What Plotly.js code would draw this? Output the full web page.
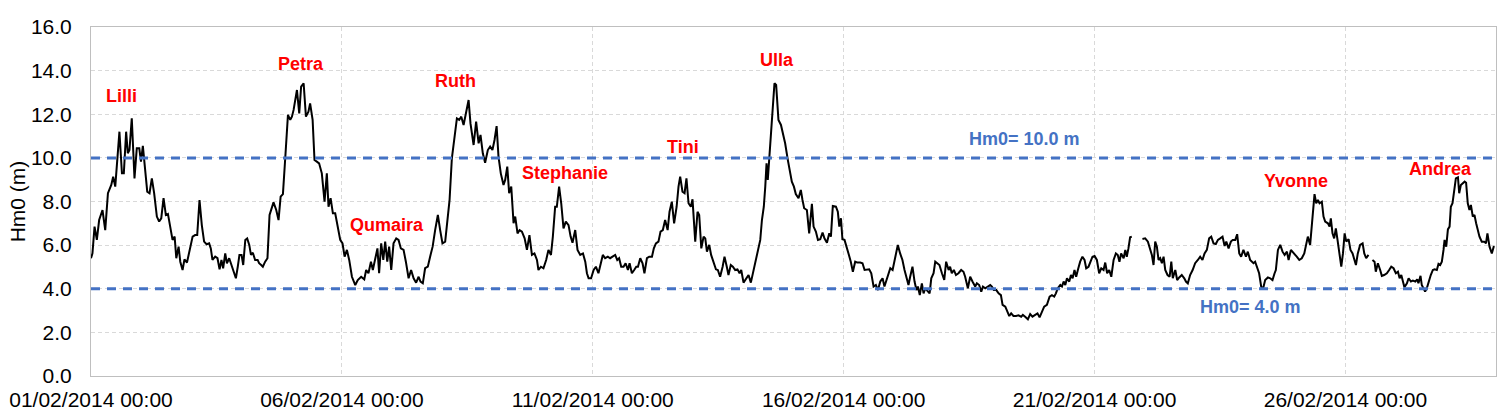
<!DOCTYPE html>
<html>
<head>
<meta charset="utf-8">
<script src="https://cdn.plot.ly/plotly-3.0.1.min.js"></script>
<style>
  html, body { margin: 0; padding: 0; background: #fff; }
  #chart { width: 1511px; height: 416px; }
</style>
</head>
<body>
<div id="chart"></div>
<script>
// Hm0 readings as [hours since 01/02/2014 00:00, Hm0 in m]; null = gap in the record
const week1 = [
    [0.0,5.40],[0.7,5.62],[1.7,6.85],[2.8,6.24],[3.9,7.15],[5.5,7.61],[6.8,6.69],[8.1,8.38],[9.7,8.76],[10.6,9.14],
    [11.6,8.68],[12.7,9.98],[13.6,11.20],[14.8,9.29],[15.7,9.29],[16.8,11.20],[17.6,10.21],[18.4,10.36],[19.5,11.81],[20.8,9.06],
    [21.9,10.44],[23.1,10.44],[23.9,9.83],[24.8,10.55],[25.9,9.60],[26.9,8.45],[28.0,8.38],[29.1,9.06],[30.2,8.38],[31.5,7.31],
    [32.6,7.08],[33.6,7.23],[34.7,8.15],[35.8,7.38],[36.8,7.43],[37.9,6.85],[39.0,6.24],[40.0,6.39],[40.8,5.40],[41.9,5.93],
    [42.7,5.24],[43.8,4.86],[44.7,5.35],[45.9,5.20],[47.4,5.85],[48.6,6.39],[49.8,6.46],[50.8,6.46],[51.9,8.07],[53.0,6.92],
    [54.1,6.16],[55.3,6.04],[56.5,6.08],[57.3,5.85],[58.1,5.32],[59.4,5.47],[60.5,5.40],[61.5,4.89],[62.4,5.32],[63.2,4.94],
    [64.2,5.62],[65.0,5.17],[66.1,5.40],[67.4,5.01],[68.3,4.71],[69.3,4.48],[70.2,5.01],[71.0,5.55],[72.0,5.55],[72.8,5.09],
    [73.8,6.24],[74.7,6.31],[75.7,6.01],[76.5,5.55],[77.4,5.65],[78.5,5.32],[79.7,5.32],[80.4,5.17],[81.4,5.09],[82.2,5.01],
    [83.3,5.24],[84.4,5.40],[85.4,7.38],[87.3,7.96],[88.6,7.61],[89.7,7.15],[90.7,8.22],[91.8,8.34],[92.9,9.98],[94.2,11.97],
    [95.3,11.74],[96.1,11.89],[96.9,12.20],[98.5,13.11],[99.6,12.04],[100.5,13.27],[101.7,13.42],[102.8,11.89],[104.0,12.12],[104.8,12.50],
    [106.0,11.74],[106.9,9.90],[108.0,9.83],[109.1,9.75],[110.4,9.29],[111.7,7.99],[112.8,9.29],[113.6,7.76],[114.6,8.15],[115.7,7.46],
    [116.8,7.46],[117.9,6.85],[119.2,6.24],[120.3,6.08],[121.3,5.47],[122.4,5.78],[123.5,5.32],[124.8,4.55],[126.4,4.17],[127.6,4.40],
    [129.2,4.55],[130.7,4.43],[131.6,4.86],[132.7,4.71],[133.9,5.24],[134.8,4.86],[135.9,5.40],[137.0,5.85],[137.8,4.71],[138.8,6.08],
    [139.8,5.32],[140.7,6.16],[141.7,5.24],[142.6,5.93],[143.6,4.86],[144.7,6.08],[146.0,6.31],[147.1,6.24],[148.2,5.85],[149.5,5.78],
    [150.6,5.24],[151.9,4.48],[153.1,4.86],[154.3,4.48],[155.5,4.28],[156.7,4.55],[157.6,4.33],[158.7,4.25],[159.8,4.94],[161.1,5.01],
    [162.2,5.47],[163.4,5.93],[164.6,6.69],[165.9,7.38],[167.0,6.69],[168.1,6.08]
];
const week2 = [
    [169.4,6.16],[170.5,7.23],[171.5,8.07],[172.6,9.98],[174.2,11.13],[175.0,11.81],[176.1,11.74],[177.1,11.89],[178.2,11.51],[179.3,12.12],
    [180.6,12.65],[181.5,11.58],[183.0,10.59],[184.2,11.66],[185.4,10.67],[186.3,11.05],[187.4,10.21],[188.5,9.78],[189.8,10.36],[190.9,10.52],
    [192.0,10.36],[193.0,10.82],[194.0,11.46],[194.9,10.06],[196.0,9.29],[197.3,8.76],[198.1,8.99],[199.1,9.60],[200.0,8.38],[201.0,8.68],
    [202.1,7.00],[202.9,7.31],[204.0,6.54],[205.0,6.69],[206.1,6.62],[207.4,6.31],[208.5,5.78],[209.7,6.46],[210.9,5.55],[212.1,5.62],
    [213.3,5.32],[214.0,4.86],[215.2,5.01],[216.4,4.94],[217.7,5.32],[218.8,5.78],[220.0,5.55],[220.9,6.39],[222.0,7.76],[222.8,7.76],
    [223.9,8.68],[224.9,7.92],[226.0,6.77],[227.1,7.08],[228.4,6.92],[229.4,6.39],[230.3,6.11],[231.6,6.69],[232.7,5.78],[234.0,5.55],
    [235.3,5.62],[236.4,5.24],[237.2,4.71],[238.0,4.48],[239.2,4.48],[240.4,4.86],[241.5,5.01],[242.7,4.71],[243.9,5.17],[244.8,5.55],
    [245.9,5.40],[247.2,5.47],[248.3,5.40],[249.6,5.47],[250.7,5.55],[251.7,5.32],[252.6,5.40],[253.6,5.01],[254.7,5.01],[255.7,5.17],
    [256.8,4.86],[257.6,5.17],[258.7,4.71],[259.8,4.86],[260.8,5.01],[261.6,5.01],[262.7,5.40],[263.8,5.17],[264.7,4.71],[265.9,5.40],
    [267.0,5.47],[268.3,5.47],[269.2,5.85],[270.2,6.08],[271.4,6.16],[272.4,6.62],[273.5,6.69],[274.6,7.15],[275.8,6.69],[276.7,7.53],
    [277.8,7.99],[278.9,7.00],[280.1,7.76],[281.0,8.68],[281.8,9.14],[282.9,8.45],[283.9,8.38],[284.8,9.06],[285.8,7.92],[286.9,7.76],
    [287.7,8.10],[289.0,6.16],[290.1,7.53],[290.9,7.38],[291.9,5.85],[293.0,6.39],[293.8,6.31],[294.6,5.70],[295.7,6.01],[296.6,5.55],
    [297.8,5.24],[298.9,4.89],[299.8,4.86],[300.9,4.55],[302.1,5.01],[303.0,5.47],[304.1,5.01],[304.9,4.63],[306.0,5.09],[307.0,5.01],
    [308.1,4.86],[309.2,4.89],[310.2,4.71],[311.0,4.86],[312.1,4.28],[313.4,4.48],[314.5,4.63],[315.6,4.28],[316.6,4.71],[317.7,5.17],
    [319.0,5.62],[320.1,6.24],[320.9,7.15],[321.8,7.76],[322.5,8.68],[323.1,9.75],[323.7,8.99],[324.4,9.90],[325.3,10.97],[326.1,12.35],
    [326.9,13.42],[327.7,13.34],[328.8,11.74],[330.0,11.51],[330.9,11.13],[332.0,10.67],[333.3,9.90],[334.4,9.29],[335.2,8.91],[336.2,8.68]
];
const week3 = [
    [337.1,8.34],[338.4,8.15],[339.5,8.53],[340.3,8.07],[341.1,7.69],[342.4,7.61],[343.5,6.54],[344.8,7.89],[345.6,6.85],[346.7,6.62],
    [347.7,6.24],[348.8,6.27],[349.9,6.58],[350.8,6.31],[352.0,6.11],[353.1,6.54],[353.9,6.39],[354.8,7.79],[356.3,7.76],[357.2,7.53],
    [357.9,6.85],[358.7,7.23],[359.4,6.27],[360.4,6.24],[361.4,5.85],[362.3,5.62],[363.4,5.24],[364.4,4.78],[365.5,5.24],[366.6,5.20],
    [367.9,5.20],[369.0,5.17],[370.0,4.86],[371.1,4.86],[372.2,4.89],[373.2,4.71],[374.3,4.10],[375.4,4.17],[376.4,3.94],[377.5,4.33],
    [378.6,4.48],[379.5,4.10],[381.1,4.55],[382.3,4.94],[383.4,4.86],[384.6,5.47],[385.9,6.01],[387.0,5.62],[388.1,5.32],[389.1,4.86],
    [390.2,4.48],[391.0,4.17],[391.8,4.55],[392.9,5.01],[393.9,4.33],[394.8,3.94],[395.5,4.10],[396.4,3.71],[397.4,4.25],[398.2,3.79],
    [399.0,4.02],[400.1,3.87],[401.1,3.79],[401.9,4.48],[403.0,4.71],[403.8,5.24],[404.9,5.17],[405.8,5.09],[407.0,4.71],[408.1,4.40],
    [409.0,5.24],[410.2,4.86],[410.9,5.01],[411.7,4.71],[412.7,4.86],[413.7,4.63],[414.9,4.71],[416.2,4.86],[417.3,4.78],[418.1,4.55],
    [419.4,4.02],[420.5,4.55],[421.6,4.33],[422.9,4.10],[423.7,4.25],[424.8,4.17],[425.8,3.87],[426.6,4.10],[427.7,4.02],[429.0,4.10],
    [430.1,4.17],[430.9,4.10],[431.8,3.94],[433.0,3.94],[434.1,3.79],[435.2,3.71],[436.0,3.26],[437.3,3.18],[438.2,2.95],[439.2,2.75],
    [440.1,2.87],[441.2,2.75],[442.4,2.75],[443.6,2.78],[444.9,2.72],[445.7,2.80],[446.8,2.72],[448.1,2.60],[449.2,2.84],[450.3,2.72],
    [451.6,2.80],[452.7,2.87],[453.7,2.69],[454.8,2.95],[455.9,3.18],[457.2,3.26],[458.5,3.64],[459.6,3.71],[460.7,3.64],[461.5,3.79],
    [462.4,4.02],[463.6,4.17],[464.4,4.10],[465.2,4.33],[466.0,4.17],[466.8,4.48],[467.9,4.33],[468.7,4.63],[469.5,4.48],[470.4,4.86],
    [471.2,4.55],[472.0,4.86],[473.1,5.24],[474.2,5.47],[475.2,5.32],[476.0,4.94],[477.1,5.01],[479.0,5.47],[480.0,5.50],[481.1,5.32],
    [482.2,4.71],[483.2,4.94],[484.3,4.86],[485.1,5.20],[486.0,4.71],[487.0,4.86],[488.0,4.55],[489.1,5.32],[490.2,5.62],[491.1,5.55],
    [491.9,5.24],[492.7,5.62],[493.9,5.40],[494.7,5.78],[495.4,5.47],[496.2,5.85],[497.0,6.36],[497.8,6.39],[500.0,null],[502.9,6.28],
    [504.2,6.31]
];
const week4 = [
    [505.5,6.16],[506.6,5.78],[507.4,5.55],[508.2,5.09],[509.0,6.16],[509.8,5.93],[510.6,5.32],[511.4,5.40],[512.2,5.17],[513.0,5.47],
    [513.8,4.86],[514.9,4.63],[515.9,4.55],[516.7,5.24],[517.4,4.48],[518.6,4.86],[519.5,4.40],[520.5,4.52],[521.7,4.63],[522.9,4.48],
    [523.7,4.33],[524.6,4.25],[525.7,4.63],[526.9,4.86],[528.1,5.17],[529.4,5.32],[530.5,5.47],[531.6,5.32],[532.6,5.62],[533.7,5.78],
    [534.8,6.31],[535.8,6.39],[536.9,6.08],[538.0,6.05],[539.0,6.24],[540.1,6.31],[541.2,6.39],[542.2,5.96],[543.0,6.16],[544.1,5.85],
    [545.2,6.16],[546.1,6.24],[547.3,6.24],[548.2,6.50],[549.2,5.62],[550.1,5.47],[551.2,5.78],[552.4,5.47],[553.3,5.70],[554.4,5.32],
    [555.2,5.24],[556.0,5.17],[556.8,5.24],[557.9,4.86],[558.7,4.71],[559.7,4.10],[560.5,3.97],[561.6,4.40],[562.9,4.52],[564.0,4.48],
    [565.1,4.40],[566.1,4.71],[566.7,4.86],[567.7,5.78],[568.8,6.01],[569.9,5.70],[570.9,5.55],[572.0,5.70],[572.8,5.32],[573.9,5.78],
    [575.6,5.62],[576.7,5.47],[577.9,5.32],[579.1,5.40],[580.3,5.62],[581.2,6.01],[582.0,6.39],[583.1,6.01],[583.9,6.92],[584.7,7.46],
    [585.2,8.34],[586.0,7.92],[586.8,8.07],[587.6,7.92],[588.7,7.99],[589.5,7.31],[590.3,7.08],[591.6,7.00],[592.4,6.85],[593.0,7.23],
    [593.8,6.54],[594.6,6.31],[595.4,6.77],[596.2,6.24],[597.0,5.78],[598.0,5.01],[598.8,5.62],[599.6,6.54],[600.4,6.16],[601.5,6.27],
    [602.4,5.78],[603.4,5.62],[604.2,5.35],[605.0,5.09],[605.9,5.62],[607.0,6.01],[608.2,6.08],[609.0,5.62],[609.9,5.40],[611.0,5.55],
    [612.0,null],[612.9,5.32],[613.9,5.24],[614.5,4.78],[615.5,5.17],[616.6,4.86],[617.4,4.59],[618.5,4.63],[619.8,4.71],[620.9,4.86],
    [621.9,5.01],[623.0,4.94],[624.1,4.71],[625.1,4.78],[625.9,4.48],[626.7,4.63],[627.5,4.25],[628.2,4.07],[629.4,4.25],[630.2,4.48],
    [631.3,4.33],[632.2,4.37],[633.4,4.33],[634.3,4.43],[634.9,4.25],[635.9,4.59],[636.5,4.17],[637.3,4.02],[638.1,3.87],[638.9,4.02],
    [639.7,4.33],[640.8,4.63],[641.8,4.86],[642.6,4.89],[643.7,4.86],[644.5,5.14],[645.3,5.09],[646.1,5.24],[646.9,5.78],[647.4,6.24],
    [648.2,5.93],[649.0,6.72],[649.8,6.85],[650.4,7.76],[651.2,7.92],[652.0,8.53],[652.8,9.06],[653.8,9.11],[654.4,8.38],[655.2,8.76],
    [656.0,8.83],[657.0,8.91],[657.7,8.86],[658.5,7.92],[659.3,7.61],[660.0,7.84],[660.9,7.31],[661.7,7.38],[662.5,7.00],[663.3,6.69],
    [664.1,6.39],[665.2,6.16],[666.4,6.16],[667.2,6.08],[667.9,6.54],[668.9,5.93],[670.0,5.62],[671.0,5.96]
];

// storms named on the chart
const stormNames = ['Lilli', 'Petra', 'Qumaira', 'Ruth', 'Stephanie', 'Tini', 'Ulla', 'Yvonne', 'Andrea'];
// thresholds (m)
const thresholds = [10.0, 4.0];

const inicio = Date.UTC(2014, 1, 1);
function paraData(h) {
    return new Date(inicio + h * 3600000).toISOString().slice(0, 19).replace('T', ' ');
}

const leituras = week1.concat(week2, week3, week4);

const serie = {
    x: leituras.map(r => paraData(r[0])),
    y: leituras.map(r => r[1]),
    type: 'scatter',
    mode: 'lines',
    connectgaps: false,
    line: { color: '#000000', width: 2 },
    showlegend: false
};

// where each label sits (hours, m)
const posNomes = [[14.4, 12.84], [100.5, 14.3], [141.7, 6.92], [174.1, 13.53], [226.8, 9.31],
                  [283.2, 10.5], [328.1, 14.49], [576.4, 8.94], [645.3, 9.49]];
const posLimites = [[446.3, 10.87], [554.4, 3.16]];

const anotacoes = stormNames.map((nome, i) => ({
    x: paraData(posNomes[i][0]), y: posNomes[i][1],
    text: '<b>' + nome + '</b>', showarrow: false,
    font: { color: '#FF0000', size: 18 }
})).concat(thresholds.map((v, i) => ({
    x: paraData(posLimites[i][0]), y: posLimites[i][1],
    text: '<b>Hm0= ' + v.toFixed(1) + ' m</b>', showarrow: false,
    font: { color: '#4472C4', size: 18 }
})));

// limites tracejados
const linhas = thresholds.map(v => ({
    type: 'line', xref: 'paper', x0: 0, x1: 1, yref: 'y', y0: v, y1: v,
    line: { color: '#4472C4', width: 3, dash: '9px,7px' },
    layer: 'above'
}));

const layout = {
    width: 1511,
    height: 416,
    margin: { l: 91, r: 15, t: 27, b: 40 },
    paper_bgcolor: '#ffffff',
    plot_bgcolor: '#ffffff',
    font: { family: 'Liberation Sans, Arial, sans-serif', size: 21, color: '#000000' },
    xaxis: {
        type: 'date',
        range: [paraData(0), paraData(672)],
        tick0: paraData(0),
        dtick: 5 * 86400000,
        tickformat: '%d/%m/%Y %H:%M',
        showgrid: true,
        gridcolor: '#D9D9D9',
        griddash: '4px,3px',
        showline: true,
        linecolor: '#BFBFBF',
        linewidth: 1,
        mirror: true,
        zeroline: false,
        ticks: '',
        ticklabelstandoff: 5
    },
    yaxis: {
        range: [0, 16],
        dtick: 2,
        tickformat: '.1f',
        showgrid: true,
        gridcolor: '#D9D9D9',
        griddash: '4px,3px',
        showline: true,
        linecolor: '#BFBFBF',
        linewidth: 1,
        mirror: true,
        zeroline: false,
        ticks: '',
        ticklabelstandoff: 14,
        title: { text: 'Hm0 (m)', font: { size: 21 } }
    },
    shapes: linhas,
    annotations: anotacoes
};

Plotly.newPlot('chart', [serie], layout, { displayModeBar: false, staticPlot: true });
</script>
</body>
</html>
